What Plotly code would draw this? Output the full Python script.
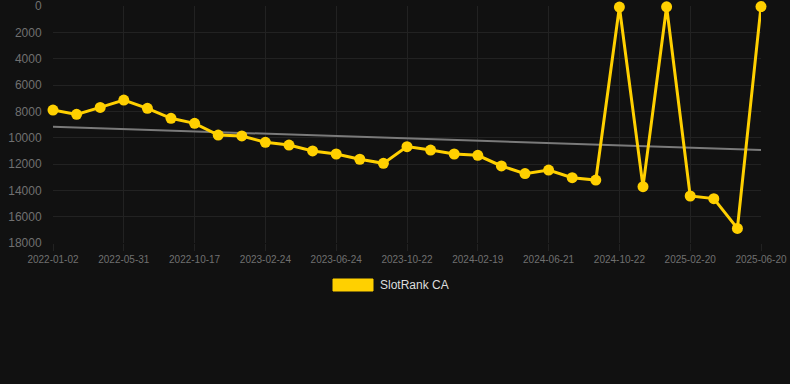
import plotly.graph_objects as go

dates = [
    "2022-01-02", "2022-02-20", "2022-04-11", "2022-05-31", "2022-07-16",
    "2022-09-01", "2022-10-17", "2022-11-29", "2023-01-11", "2023-02-24",
    "2023-04-04", "2023-05-14", "2023-06-24", "2023-08-03", "2023-09-12",
    "2023-10-22", "2023-12-01", "2024-01-10", "2024-02-19", "2024-03-30",
    "2024-05-11", "2024-06-21", "2024-08-01", "2024-09-11", "2024-10-22",
    "2024-12-01", "2025-01-10", "2025-02-20", "2025-04-01", "2025-05-11",
    "2025-06-20",
]
rank = [
    7900, 8230, 7700, 7140, 7770, 8530, 8910, 9800, 9870, 10350,
    10560, 11010, 11240, 11640, 11950, 10680, 10940, 11240, 11340, 12150,
    12730, 12460, 13040, 13220, 80, 13720, 60, 14430, 14630, 16890,
    40,
]
tick_labels = dates[::3]
trend_x = [dates[0], dates[-1]]
trend_y = [9170, 10940]
y_ticks = [0, 2000, 4000, 6000, 8000, 10000, 12000, 14000, 16000, 18000]
series_name = "SlotRank CA"

fig = go.Figure()
fig.add_trace(go.Scatter(
    x=trend_x, y=trend_y, mode="lines",
    line=dict(color="#7a7a7a", width=2), showlegend=False, hoverinfo="skip",
))
fig.add_trace(go.Scatter(
    x=dates, y=rank, mode="lines+markers", name=series_name,
    line=dict(color="#FFD000", width=3),
    marker=dict(color="#FFD000", size=11),
    cliponaxis=False, showlegend=False,
))

fig.update_layout(
    width=790, height=384,
    paper_bgcolor="#111111", plot_bgcolor="#111111",
    margin=dict(l=53, r=29, t=6, b=141, autoexpand=False),
    font=dict(family="Liberation Sans, Arial, sans-serif", color="#777777"),
)
fig.update_xaxes(
    type="category", categoryorder="array", categoryarray=dates,
    range=[0, len(dates) - 1],
    tickmode="array", tickvals=tick_labels, ticktext=tick_labels,
    showgrid=True, gridcolor="#222222", gridwidth=1,
    zeroline=False, showline=False,
    tickfont=dict(size=10, color="#707070"),
    ticks="outside", ticklen=7, tickcolor="#222222",
    ticklabeloverflow="allow", automargin=False,
)
fig.update_yaxes(
    range=[18000, -1],
    tickmode="array", tickvals=y_ticks, ticktext=[str(v) for v in y_ticks],
    showgrid=True, gridcolor="#222222", gridwidth=1,
    zeroline=False, showline=False,
    tickfont=dict(size=12, color="#707070"),
    ticks="outside", ticklen=8, tickcolor="rgba(0,0,0,0)",
    ticklabeloverflow="allow", automargin=False,
)

# legend (drawn as paper-space box + label, Chart.js style)
fig.add_shape(type="rect", xref="paper", yref="paper",
              x0=(333 - 53) / 708, x1=(373 - 53) / 708,
              y0=(243 - 291) / 237, y1=(243 - 279) / 237,
              fillcolor="#FFD000", line=dict(color="#FFD000", width=1))
fig.add_annotation(xref="paper", yref="paper",
                   x=(378 - 53) / 708, y=(243 - 285) / 237,
                   xanchor="left", yanchor="middle", showarrow=False,
                   text=series_name, font=dict(size=12, color="#dddddd"))

fig.write_html(
    "out.html",
    config={"displayModeBar": False},
    post_script="document.body.style.margin='0';document.body.style.background='#111111';",
)
